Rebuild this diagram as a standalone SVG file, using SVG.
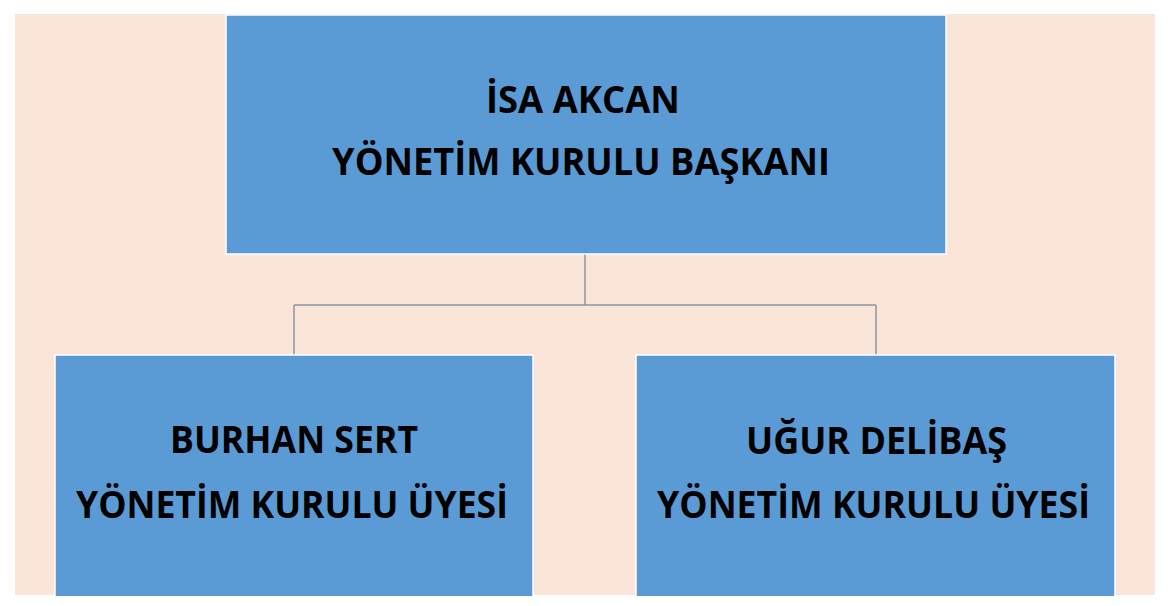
<svg xmlns="http://www.w3.org/2000/svg" width="1169" height="606" viewBox="0 0 1169 606">
<style>
.box{fill:#5B9BD5;stroke:#FFFFFF;stroke-width:1.5}
.t{font-family:"Open Sans","Liberation Sans",sans-serif;font-weight:bold;font-size:38px;fill:#000000;text-anchor:middle}
.conn{fill:none;stroke:#8C97A6;stroke-width:1.5}
</style>
<rect x="0" y="0" width="1169" height="606" fill="#FFFFFF"/>
<rect x="15" y="14" width="1140" height="581" fill="#FBE5D9"/>
<g id="connectors">
<path class="conn" d="M585,254 V305 M294,305 H876 M294,305 V355 M876,305 V355"/>
</g>
<g id="node-top">
<rect class="box" x="226" y="15" width="720" height="239"/>
<text class="t" x="583" y="113" textLength="194" lengthAdjust="spacingAndGlyphs">İSA AKCAN</text>
<text class="t" x="581" y="175" textLength="498" lengthAdjust="spacingAndGlyphs">YÖNETİM KURULU BAŞKANI</text>
</g>
<g id="node-left">
<rect class="box" x="55" y="355" width="478" height="242"/>
<text class="t" x="294" y="453" textLength="248" lengthAdjust="spacingAndGlyphs">BURHAN SERT</text>
<text class="t" x="292" y="518" textLength="432" lengthAdjust="spacingAndGlyphs">YÖNETİM KURULU ÜYESİ</text>
</g>
<g id="node-right">
<rect class="box" x="636" y="355" width="479" height="242"/>
<text class="t" x="876.5" y="454" textLength="261" lengthAdjust="spacingAndGlyphs">UĞUR DELİBAŞ</text>
<text class="t" x="873.5" y="518" textLength="433" lengthAdjust="spacingAndGlyphs">YÖNETİM KURULU ÜYESİ</text>
</g>
<rect x="0" y="596" width="1169" height="10" fill="#FFFFFF"/>
</svg>
